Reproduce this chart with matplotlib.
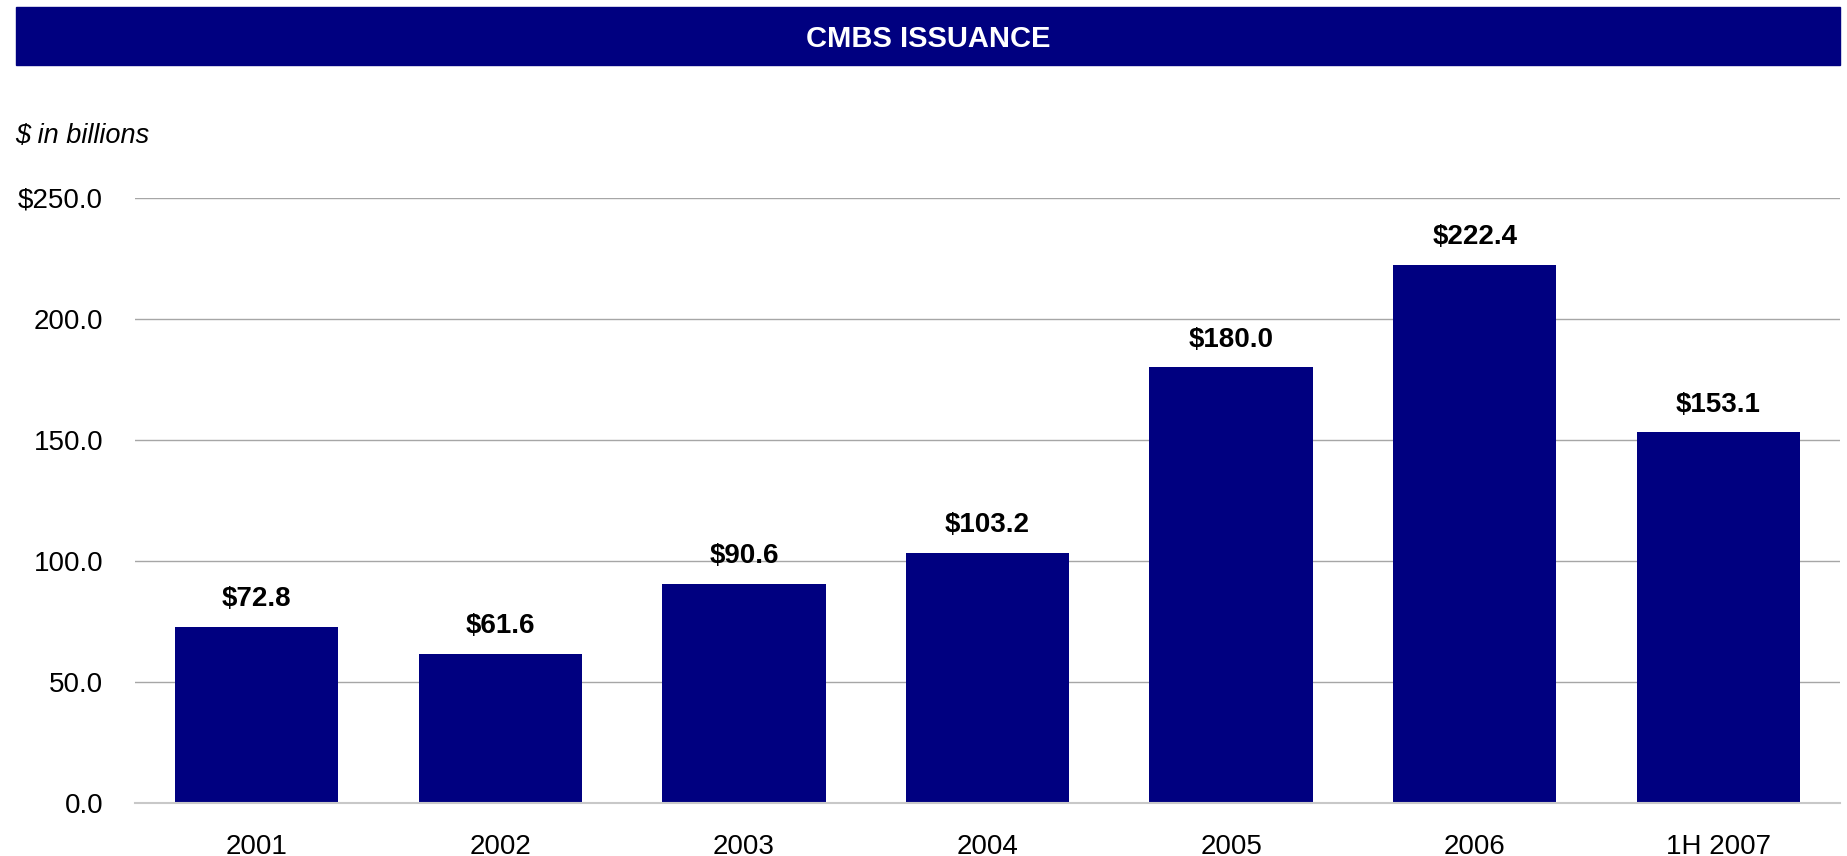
import matplotlib.pyplot as plt
from matplotlib.patches import Rectangle

# data ($ in billions)
years = ["2001", "2002", "2003", "2004", "2005", "2006", "1H 2007"]
issuance = [72.8, 61.6, 90.6, 103.2, 180.0, 222.4, 153.1]
y_ticks = [0, 50, 100, 150, 200, 250]

navy = "#000080"
plt.rcParams["font.family"] = ["Liberation Sans", "DejaVu Sans"]

fig = plt.figure(figsize=(18.47, 8.56), dpi=100)
ax = fig.add_axes([135 / 1847, 1 - 803 / 856, (1840 - 135) / 1847, (803 - 198) / 856])

# title banner
fig.patches.append(Rectangle((16 / 1847, 1 - 65 / 856), 1824 / 1847, 58 / 856,
                             transform=fig.transFigure, color=navy, zorder=0))
fig.text(928 / 1847, 1 - 47 / 856, "CMBS ISSUANCE", color="white", fontsize=21,
         fontweight="bold", ha="center", va="baseline")
fig.text(15 / 1847, 1 - 143 / 856, "$ in billions", fontsize=19.5, style="italic",
         ha="left", va="baseline")

x = range(len(years))
bars = ax.bar(x, issuance, width=0.67, color=navy, zorder=3)

for xi, v in zip(x, issuance):
    ax.annotate(f"${v:.1f}", (xi, v), xytext=(0, 15), textcoords="offset points",
                ha="center", va="baseline", fontsize=20, fontweight="bold")

ax.set_xlim(-0.5, len(years) - 0.5)
ax.set_ylim(0, 250)
ax.set_yticks(y_ticks)
ax.set_yticklabels([("$" if t == 250 else "") + f"{t:.1f}" for t in y_ticks])
ax.set_xticks(list(x))
ax.set_xticklabels(years)
ax.tick_params(axis="y", length=0, pad=23, labelsize=20)
ax.tick_params(axis="x", length=0, pad=22, labelsize=20)

ax.grid(axis="y", color="#a6a6a6", linewidth=1.0, zorder=0)
for s in ["top", "right", "left"]:
    ax.spines[s].set_visible(False)
ax.spines["bottom"].set_color("#c8c8c8")
ax.spines["bottom"].set_linewidth(1.5)
ax.spines["bottom"].set_zorder(4)

fig.savefig("out.png", dpi=100)
